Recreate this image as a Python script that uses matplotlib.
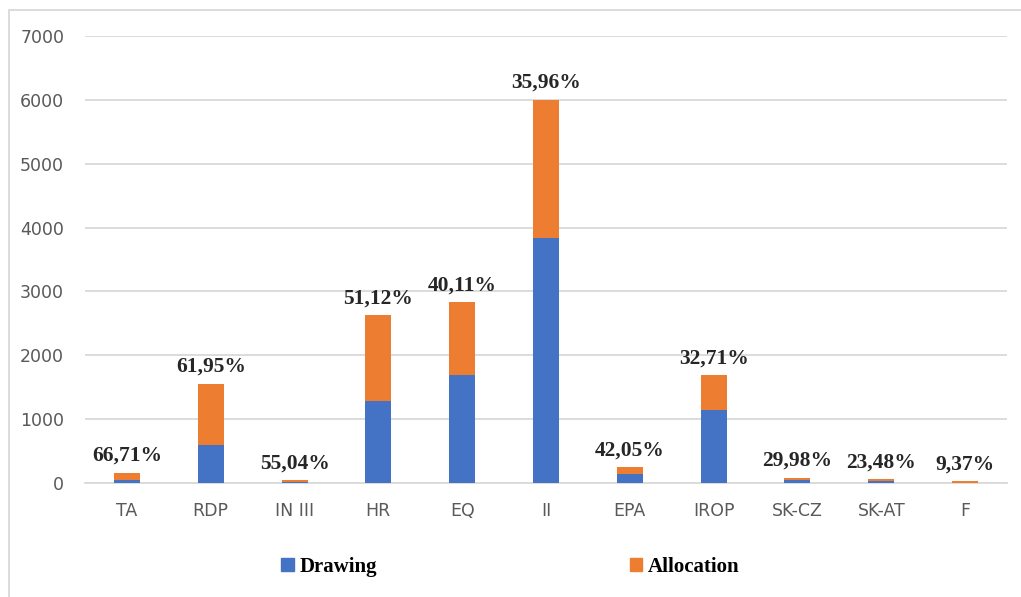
import matplotlib.pyplot as plt
from matplotlib.patches import Patch, Rectangle

# data
programmes = ['TA', 'RDP', 'IN III', 'HR', 'EQ', 'II', 'EPA', 'IROP', 'SK-CZ', 'SK-AT', 'F']
drawing = [52, 591, 10, 1284, 1695, 3842, 142, 1136, 50, 38, 5]
allocation = [105, 963, 30, 1343, 1136, 2158, 103, 552, 28, 20, 22]
share_labels = ['66,71%', '61,95%', '55,04%', '51,12%', '40,11%', '35,96%',
                '42,05%', '32,71%', '29,98%', '23,48%', '9,37%']

blue = '#4472C4'
orange = '#ED7D31'
grid_col = '#D9D9D9'
tick_col = '#595959'

fig = plt.figure(figsize=(10.21, 5.97), dpi=100)
ax = fig.add_axes([85 / 1021, 1 - 483 / 597, 922 / 1021, 447 / 597])

x = range(len(programmes))
ax.bar(x, drawing, width=0.31, color=blue, label='Drawing', zorder=3)
ax.bar(x, allocation, width=0.31, bottom=drawing, color=orange, label='Allocation', zorder=3)

# percentage labels above each bar
for i, lab in enumerate(share_labels):
    top = drawing[i] + allocation[i]
    ax.annotate(lab, (i, top), xytext=(0, 5), textcoords='offset points',
                ha='center', va='bottom', fontsize=15.5, fontweight='bold',
                family='Liberation Serif', color='#262626')

ax.set_xlim(-0.5, len(programmes) - 0.5)
ax.set_ylim(0, 7000)
ax.set_yticks(range(0, 7001, 1000))
ax.set_xticks(list(x))
ax.set_xticklabels(programmes)
ax.yaxis.grid(True, color=grid_col, linewidth=1.3, zorder=0)
ax.set_axisbelow(True)
for s in ['left', 'right', 'top']:
    ax.spines[s].set_visible(False)
ax.spines['bottom'].set_color(grid_col)
ax.spines['bottom'].set_linewidth(1.3)
ax.tick_params(axis='both', length=0, labelsize=12.5, colors=tick_col)
ax.tick_params(axis='y', pad=15)
ax.tick_params(axis='x', pad=14)

handles = [Patch(color=blue), Patch(color=orange)]
fig.legend(handles, ['Drawing', 'Allocation'], loc='center', bbox_to_anchor=(0.5, 1 - 567 / 597),
           ncol=2, frameon=False, handlelength=0.6, handleheight=0.6, handletextpad=0.3,
           columnspacing=12.1, prop={'family': 'Liberation Serif', 'weight': 'bold', 'size': 15})

# thin frame around the chart area, cut off at right and bottom
fig.patches.append(Rectangle((9 / 1021, -0.1), 1.2, 1 - 10 / 597 + 0.1, transform=fig.transFigure,
                             fill=False, edgecolor=grid_col, linewidth=1.3))

fig.savefig('out.png', dpi=100)
